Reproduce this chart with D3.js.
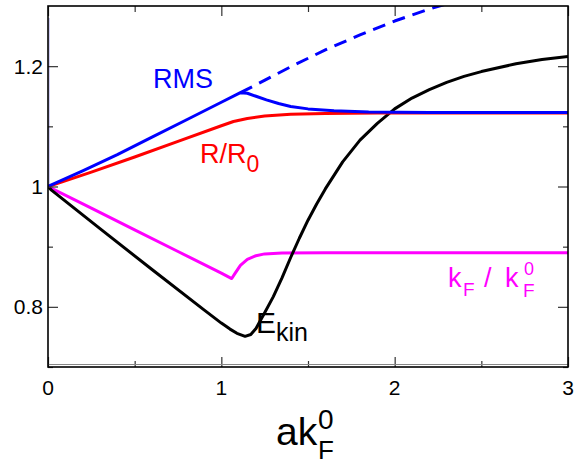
<!DOCTYPE html>
<html>
<head>
<meta charset="utf-8">
<script src="https://cdn.jsdelivr.net/npm/d3@7"></script>
<style>
  body { margin: 0; background: #fff; }
  svg { display: block; font-family: "Liberation Sans", Arial, sans-serif; }
</style>
</head>
<body>
<svg id="chart" width="574" height="465"></svg>
<script>
// values, [ak_F^0, ratio]
const rmsSolid = [[0,1],[0.2,1.026],[0.4,1.053],[0.6,1.082],[0.8,1.111],[1.0,1.140],[1.11,1.156],
    [1.15,1.155],[1.2,1.150],[1.26,1.144],[1.33,1.138],[1.4,1.133],[1.5,1.129],[1.65,1.126],
    [1.85,1.124],[2.2,1.123],[3,1.123]];
const rmsDashed = [[1.11,1.156],[1.2,1.169],[1.4,1.199],[1.6,1.227],[1.8,1.252],[2.0,1.275],
    [2.2,1.295],[2.4,1.312]];
const rRatio = [[0,1],[0.25,1.024],[0.5,1.049],[0.75,1.075],[1.0,1.101],[1.07,1.108],[1.15,1.113],
    [1.25,1.117],[1.4,1.120],[1.6,1.1215],[1.9,1.122],[3,1.122]];
const kfRatio = [[0,1],[0.25,0.964],[0.5,0.928],[0.75,0.892],[1.0,0.856],[1.06,0.847],[1.08,0.856],
    [1.11,0.869],[1.15,0.879],[1.2,0.885],[1.25,0.888],[1.35,0.8895],[1.6,0.890],[3,0.890]];
const eKin = [[0,1],[0.02,0.994],[0.3,0.930],[0.6,0.862],[0.9,0.795],[1.0,0.773],
    [1.05,0.763],[1.09,0.756],[1.137,0.751],[1.17,0.754],[1.2,0.764],[1.25,0.790],[1.3,0.817],
    [1.35,0.848],[1.4,0.882],[1.45,0.914],[1.5,0.944],[1.55,0.971],[1.6,0.996],[1.7,1.041],
    [1.8,1.077],[1.9,1.105],[2.0,1.129],[2.1,1.147],[2.2,1.161],[2.3,1.173],[2.4,1.183],
    [2.5,1.191],[2.7,1.204],[2.85,1.211],[3.0,1.216]];
const faintSpike = [[0.006,1.0],[0.006,1.28]];

const xMajor = [0, 1, 2, 3];
const xMinor = [0.5, 1.5, 2.5];
const yMajor = [0.8, 1, 1.2];
const yMinor = [0.7, 0.9, 1.1];

const svg = d3.select("#chart");
const pL = 48, pR = 568, pT = 6, pB = 367;

const x = d3.scaleLinear().domain([0, 3]).range([pL, pR]);
const y = d3.scaleLinear().domain([0.7, 1.3]).range([pB, pT]);

svg.append("defs").append("clipPath").attr("id", "plot")
    .append("rect").attr("x", pL).attr("y", pT)
    .attr("width", pR - pL).attr("height", pB - pT);

const line = d3.line().x(d => x(d[0])).y(d => y(d[1]));
const curves = svg.append("g").attr("clip-path", "url(#plot)");

function drawCurve(data, color, width, dash) {
    curves.append("path")
        .datum(data)
        .attr("fill", "none")
        .attr("stroke", color)
        .attr("stroke-width", width)
        .attr("stroke-dasharray", dash || null)
        .attr("stroke-linejoin", "round")
        .attr("d", line);
}

drawCurve(faintSpike, "#c4c0f0", 1.5);
drawCurve(kfRatio, "#ff00ff", 3);
drawCurve(eKin, "#000", 3);
drawCurve(rRatio, "#ff0000", 3);
drawCurve(rmsDashed, "#0000ff", 3, "13,8");
drawCurve(rmsSolid, "#0000ff", 3);

// ticks pointing inward on all four sides
function ticks(axis, vals, size, tx) {
    const g = svg.append("g").attr("transform", tx)
        .call(axis.tickValues(vals).tickSize(-size).tickFormat(""));
    g.select(".domain").remove();
    g.selectAll(".tick line").attr("stroke", "#333").attr("stroke-width", 1.2);
}
ticks(d3.axisBottom(x), xMajor, 10, `translate(0,${pB})`);
ticks(d3.axisBottom(x), xMinor, 6, `translate(0,${pB})`);
ticks(d3.axisTop(x), xMajor, 10, `translate(0,${pT})`);
ticks(d3.axisTop(x), xMinor, 6, `translate(0,${pT})`);
ticks(d3.axisLeft(y), yMajor, 10, `translate(${pL},0)`);
ticks(d3.axisLeft(y), yMinor, 5, `translate(${pL},0)`);
ticks(d3.axisRight(y), yMajor, 10, `translate(${pR},0)`);
ticks(d3.axisRight(y), yMinor, 5, `translate(${pR},0)`);

// frame
svg.append("line").attr("x1", pL).attr("x2", pR).attr("y1", pB - 2.5).attr("y2", pB - 2.5)
    .attr("stroke", "#888").attr("stroke-width", 1);
svg.append("rect").attr("x", pL).attr("y", pT)
    .attr("width", pR - pL).attr("height", pB - pT)
    .attr("fill", "none").attr("stroke", "#000").attr("stroke-width", 1.6);

// tick labels
svg.append("g").selectAll("text").data(xMajor).join("text")
    .attr("x", d => x(d)).attr("y", 395)
    .attr("text-anchor", "middle").attr("font-size", 21)
    .text(d => d3.format("")(d));
svg.append("g").selectAll("text").data(yMajor).join("text")
    .attr("x", pL - 5).attr("y", d => y(d)).attr("dy", "0.36em")
    .attr("text-anchor", "end").attr("font-size", 21)
    .text(d => d3.format("")(d));

// x axis title: a k_F^0 (sup and sub stacked)
const xt = svg.append("text").attr("x", 276).attr("y", 445).attr("font-size", 39);
xt.append("tspan").text("ak");
xt.append("tspan").attr("x", 318).attr("y", 429).attr("font-size", 28).text("0");
xt.append("tspan").attr("x", 318).attr("y", 459).attr("font-size", 26).text("F");

// curve labels
svg.append("text").attr("x", 153).attr("y", 88).attr("font-size", 27)
    .attr("fill", "#0000ff").text("RMS");

const rl = svg.append("text").attr("x", 200).attr("y", 163).attr("font-size", 27).attr("fill", "#ff0000");
rl.append("tspan").text("R/R");
rl.append("tspan").attr("font-size", 23).attr("dy", 9).text("0");

const el = svg.append("text").attr("x", 256).attr("y", 333).attr("font-size", 30).attr("fill", "#000");
el.append("tspan").text("E");
el.append("tspan").attr("font-size", 25).attr("dy", 8).text("kin");

const kl = svg.append("text").attr("x", 448).attr("y", 287).attr("font-size", 27).attr("fill", "#ff00ff");
kl.append("tspan").text("k");
kl.append("tspan").attr("x", 463).attr("y", 296).attr("font-size", 19).text("F");
kl.append("tspan").attr("x", 484).attr("y", 287).text("/");
kl.append("tspan").attr("x", 505).attr("y", 287).text("k");
kl.append("tspan").attr("x", 523).attr("y", 297).attr("font-size", 19).text("F");
kl.append("tspan").attr("x", 524).attr("y", 275).attr("font-size", 18).text("0");
</script>
</body>
</html>
